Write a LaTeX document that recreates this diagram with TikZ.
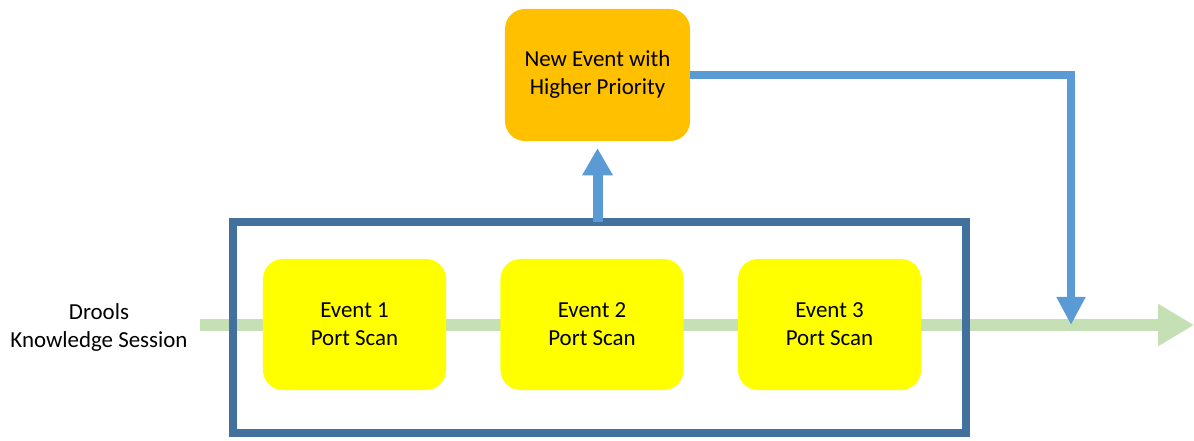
\documentclass[tikz,border=0pt]{standalone}
\usepackage{fontspec}
\setmainfont{Carlito}
\usetikzlibrary{positioning, arrows.meta}

\definecolor{streamgreen}{HTML}{C5E0B4}
\definecolor{frameblue}{HTML}{41719C}
\definecolor{flowblue}{HTML}{5B9BD5}
\definecolor{eventyellow}{HTML}{FFFF00}
\definecolor{priorityorange}{HTML}{FFC000}

\begin{document}
\begin{tikzpicture}[
    x=0.025cm, y=-0.025cm,
    font=\fontsize{16.3}{19.9}\selectfont,
    event/.style={fill=eventyellow, rounded corners=0.5cm, minimum width=4.575cm,
                  minimum height=3.275cm, align=center, inner sep=0pt},
    priority/.style={fill=priorityorange, rounded corners=0.5cm, minimum width=4.625cm,
                     minimum height=3.3cm, align=center, inner sep=0pt},
    window/.style={draw=frameblue, line width=0.2cm, minimum width=18.325cm,
                   minimum height=5.275cm, inner sep=0pt, outer sep=0pt},
    stream/.style={draw=streamgreen, line width=0.3cm,
                   -{Triangle[width=1cm, length=0.9cm]}},
    flow/.style={draw=flowblue, line width=0.22cm, line join=miter,
                 -{Triangle[width=0.68cm, length=0.7cm]}}
]

\useasboundingbox (0,0) rectangle (1194,440);

% Knowledge session stream
\coordinate (streamstart) at (200,325);
\coordinate (streamend) at (1194,325);
\coordinate (drop) at (1071,325);
\draw[stream] (streamstart) -- (streamend);

\node[align=center] (session) at (99,328) {Drools\\Knowledge Session};

% Window of events
\node[window] (window) at (599.5,327.5) {};
\node[event] (ev1) at (354.5,324.5) {Event 1\\Port Scan};
\node[event] (ev2) at (592,324.5) {Event 2\\Port Scan};
\node[event] (ev3) at (829.5,324.5) {Event 3\\Port Scan};

% Higher priority event
\node[priority] (newev) at (597.5,75) {New Event with\\Higher Priority};

% Connections
\draw[flow, line width=0.25cm, -{Triangle[width=0.72cm, length=0.68cm]}, shorten >=0.17cm]
    (window.north -| newev.south) -- (newev.south);
\draw[flow] (newev.east) -| (drop);

\end{tikzpicture}
\end{document}
